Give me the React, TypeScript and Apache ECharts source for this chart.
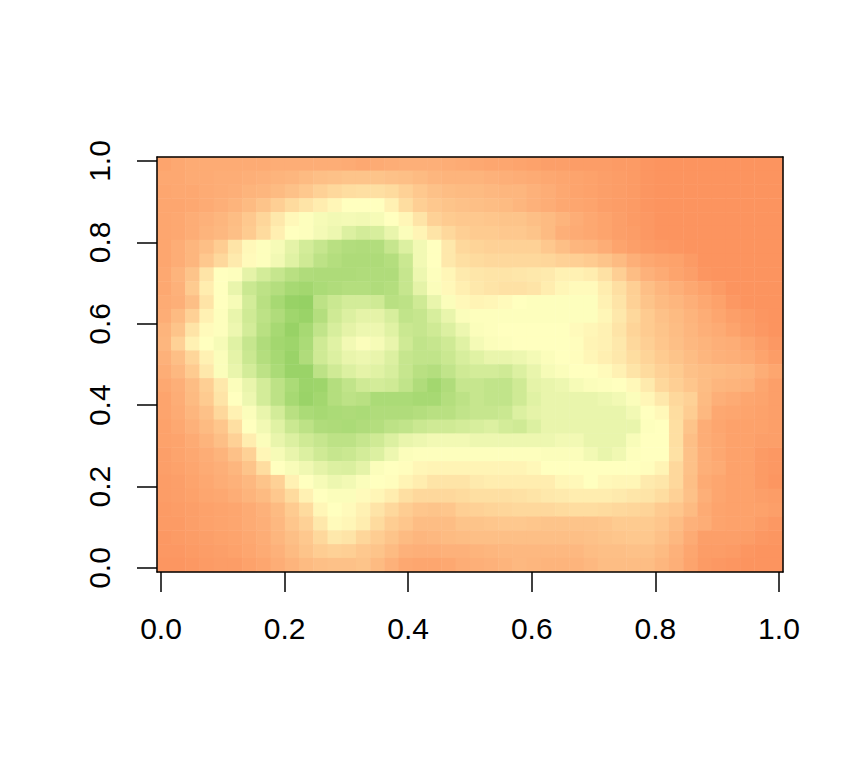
import React, { useEffect, useRef } from "react";
import * as echarts from "echarts";

const tickValues = [0, 0.2, 0.4, 0.6, 0.8, 1];
const paletteColors = ["#FC8D59", "#FFFFBF", "#91CF60"];
const rowsTopToBottom: number[][] = [
[10,12,13,13,13,13,13,13,14,14,14,14,14,13,12,13,14,15,15,15,14,13,12,11,11,10,9,8,8,7,7,7,6,6,4,3,3,3,3,3,3,3,3,3],
[12,12,13,13,14,14,15,16,17,18,20,22,23,24,24,24,23,22,20,18,17,17,17,16,15,14,13,12,11,10,9,8,7,6,4,3,3,3,3,3,3,3,3,3],
[11,12,12,13,14,15,17,18,20,23,26,30,33,35,36,36,34,30,26,23,21,20,20,19,18,18,16,14,12,10,9,8,7,6,4,3,3,3,3,3,3,3,3,3],
[11,11,12,13,15,17,20,24,29,34,38,42,46,50,50,50,44,35,29,26,24,23,22,21,20,18,16,14,12,11,10,8,7,6,4,3,3,3,3,3,3,3,3,3],
[11,12,14,16,18,21,26,32,40,47,51,54,56,55,56,54,50,46,38,30,27,26,26,25,24,24,22,20,17,14,12,10,8,6,5,3,3,3,3,3,3,3,3,3],
[11,12,14,17,19,22,27,34,43,50,51,55,58,66,70,68,60,52,45,38,33,29,27,27,26,26,24,20,15,13,12,10,8,7,5,3,3,3,3,3,3,3,3,3],
[11,14,18,22,28,38,47,51,54,62,70,76,82,85,86,85,76,66,56,50,40,33,31,30,30,30,30,26,22,18,17,14,10,8,6,5,4,3,3,3,3,3,3,3],
[11,14,18,26,33,41,48,51,56,64,72,80,84,87,87,87,84,74,56,50,40,36,34,33,33,33,33,32,30,29,27,24,20,15,12,10,9,6,3,3,3,3,3,3],
[12,17,24,38,50,51,62,70,76,82,86,87,87,87,86,86,86,76,58,51,46,41,39,38,38,39,40,41,44,44,42,37,29,21,16,13,10,8,4,3,3,3,3,3],
[12,16,27,42,50,60,74,80,84,90,92,88,86,84,84,86,84,76,62,52,47,43,40,38,37,37,38,42,46,48,48,42,36,29,22,18,15,12,9,6,3,3,3,3],
[13,15,22,38,50,54,70,82,90,97,98,80,74,70,70,72,82,80,72,60,52,47,45,46,48,50,51,51,51,51,51,44,38,30,24,20,18,15,12,9,5,3,3,3],
[14,20,30,44,51,60,72,80,86,93,96,84,72,66,62,62,68,78,76,68,60,52,51,51,51,51,51,51,51,51,51,46,40,33,27,23,20,17,14,11,8,6,4,3],
[17,24,38,48,51,58,70,82,90,97,90,78,68,62,58,58,64,74,76,72,66,58,52,51,50,50,50,50,50,48,46,44,38,31,27,24,21,18,15,13,10,7,5,3],
[18,30,44,50,54,64,76,86,92,94,88,72,64,56,52,54,60,72,78,76,72,64,55,52,51,50,50,50,50,49,45,44,40,33,29,25,22,19,17,15,14,11,8,5],
[16,22,32,44,52,62,74,84,90,96,86,72,66,60,58,60,66,76,78,78,74,68,64,60,60,58,55,52,50,49,46,43,40,35,31,27,24,21,18,16,15,13,10,7],
[14,19,27,40,52,60,70,80,88,96,96,80,72,66,62,64,68,76,82,84,78,72,70,70,72,66,60,54,52,50,50,48,44,38,34,30,27,23,21,20,19,18,14,11],
[12,15,21,29,40,52,60,70,80,88,95,94,84,78,72,70,72,78,86,92,86,76,76,78,78,72,62,60,58,54,52,51,50,47,41,33,29,25,21,18,17,16,11,8],
[10,14,20,27,38,50,58,70,80,90,96,92,84,80,82,88,88,88,90,90,84,80,76,78,78,72,64,60,60,60,60,58,56,52,46,40,33,30,20,15,13,11,10,8],
[10,13,18,23,33,44,52,60,70,82,88,90,88,87,88,86,86,86,84,82,82,78,76,76,74,66,62,60,60,60,60,60,60,56,50,47,35,28,19,12,11,10,9,8],
[9,12,16,20,25,36,50,56,64,74,80,86,87,88,86,84,80,78,74,72,72,70,68,66,70,72,66,60,60,60,60,60,60,60,51,50,36,24,14,11,9,9,9,8],
[9,10,13,17,22,30,42,52,60,66,72,76,80,80,76,72,66,60,58,56,56,56,58,58,58,58,58,58,56,56,60,60,60,53,50,50,36,22,14,12,9,9,8,8],
[8,10,12,14,17,23,30,46,54,60,66,72,76,74,70,66,58,52,51,51,51,51,51,51,51,51,51,52,52,52,56,60,57,51,50,50,37,23,15,12,9,9,6,5],
[8,9,11,13,15,18,24,35,50,53,57,62,66,67,62,52,50,49,46,45,45,45,45,45,45,45,47,50,50,50,50,50,50,50,49,45,33,23,15,13,9,9,6,5],
[7,8,10,12,14,16,19,24,30,44,50,54,58,56,52,50,49,45,42,38,38,38,41,42,42,42,42,42,46,47,50,47,46,46,41,39,33,22,13,11,9,9,6,4],
[7,8,9,11,12,14,17,20,26,34,44,50,52,52,48,46,42,36,33,33,33,34,36,36,36,37,38,40,41,42,42,42,41,39,38,35,30,23,15,11,9,9,8,7],
[6,7,8,9,10,11,13,16,20,27,34,46,50,48,44,38,33,28,25,24,25,29,30,31,32,33,33,33,34,35,35,34,33,32,31,27,25,20,13,10,9,9,9,8],
[6,6,8,9,10,11,13,15,19,25,30,40,48,46,42,34,28,25,21,21,21,24,24,25,26,26,25,24,24,24,24,25,27,27,27,25,21,16,14,10,9,9,7,5],
[5,6,7,8,9,10,12,14,18,22,26,33,40,38,32,28,24,20,18,19,20,21,22,22,22,22,22,22,22,22,23,24,25,26,26,23,19,13,8,8,8,7,5,4],
[5,5,6,7,8,9,11,13,16,20,24,28,30,29,26,24,20,16,15,15,16,16,17,18,19,19,19,19,19,19,21,22,22,23,23,20,16,11,7,7,6,4,3,3],
[4,4,5,6,7,7,9,11,14,17,20,22,23,23,24,20,16,12,11,11,12,14,15,16,17,19,18,17,17,17,19,21,21,21,21,18,15,10,6,5,4,3,3,3],
];

const rowCount = rowsTopToBottom.length;
const colCount = rowsTopToBottom[0].length;
const cells: number[][] = [];
rowsTopToBottom.forEach((row, r) =>
  row.forEach((v, c) => cells.push([c, rowCount - 1 - r, v]))
);
const indices = (n: number) => Array.from({ length: n }, (_, i) => String(i));

const FONT = "Liberation Sans";
const lineStyle = { color: "#000", width: 1.5 };

export default function App() {
  const ref = useRef<HTMLDivElement>(null);
  useEffect(() => {
    document.body.style.margin = "0";
    const chart = echarts.init(ref.current!, null, { renderer: "svg" });
    chart.setOption({
      animation: false,
      backgroundColor: "#fff",
      grid: { left: 157, top: 157, width: 626, height: 415, show: false },
      visualMap: {
        show: false,
        type: "continuous",
        min: 0,
        max: 100,
        dimension: 2,
        seriesIndex: 0,
        inRange: { color: paletteColors },
      },
      xAxis: [
        {
          type: "category",
          data: indices(colCount),
          position: "top",
          z: 10,
          axisLine: { show: true, onZero: false, lineStyle },
          axisTick: { show: false },
          axisLabel: { show: false },
          splitLine: { show: false },
        },
        {
          type: "value",
          position: "bottom",
          min: -0.0065,
          max: 1.0065,
          z: 10,
          axisLine: { show: true, onZero: false, lineStyle },
          axisTick: { show: true, length: 20, lineStyle, customValues: tickValues },
          axisLabel: {
            show: true,
            customValues: tickValues,
            fontFamily: FONT,
            fontSize: 30,
            color: "#000",
            margin: 41,
            formatter: (v: number) => v.toFixed(1),
          },
          splitLine: { show: false },
        },
      ],
      yAxis: [
        {
          type: "category",
          data: indices(rowCount),
          position: "right",
          z: 10,
          axisLine: { show: true, onZero: false, lineStyle },
          axisTick: { show: false },
          axisLabel: { show: false },
          splitLine: { show: false },
        },
        {
          type: "value",
          position: "left",
          min: -0.0098,
          max: 1.0098,
          z: 10,
          axisLine: { show: true, onZero: false, lineStyle },
          axisTick: { show: true, length: 20, lineStyle, customValues: tickValues },
          axisLabel: {
            show: true,
            customValues: tickValues,
            rotate: 90,
            fontFamily: FONT,
            fontSize: 30,
            color: "#000",
            margin: 43,
            formatter: (v: number) => v.toFixed(1),
          },
          splitLine: { show: false },
        },
      ],
      series: [
        {
          type: "heatmap",
          xAxisIndex: 0,
          yAxisIndex: 0,
          data: cells,
          itemStyle: { borderWidth: 0 },
          emphasis: { disabled: true },
        },
      ],
    });
    return () => chart.dispose();
  }, []);
  return <div ref={ref} style={{ width: 864, height: 768 }} />;
}
